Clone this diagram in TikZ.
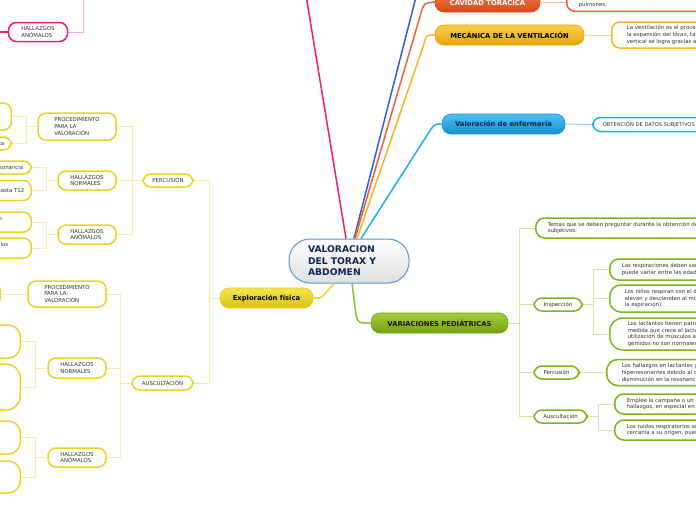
\documentclass[tikz,border=0pt]{standalone}
\usepackage{fontspec}
\setmainfont{DejaVu Sans}
\usetikzlibrary{calc}
\definecolor{cpink}{HTML}{EE1E78}
\definecolor{cpinkl}{HTML}{F7AACB}
\definecolor{cblue}{HTML}{2E62D4}
\definecolor{cred}{HTML}{F0603A}
\definecolor{credl}{HTML}{F8B4A0}
\definecolor{corange}{HTML}{F8B425}
\definecolor{corangel}{HTML}{FCDC98}
\definecolor{ccyan}{HTML}{22AEE8}
\definecolor{ccyanl}{HTML}{9ED8F4}
\definecolor{cgreen}{HTML}{8CC232}
\definecolor{cgreenk}{HTML}{7DB51A}
\definecolor{cgreenl}{HTML}{CFE6A4}
\definecolor{cyel}{HTML}{EFD124}
\definecolor{cyell}{HTML}{F8EDA8}
\definecolor{ctext}{HTML}{333333}
\definecolor{cnavy}{HTML}{12254F}
\tikzset{
  mainbox/.style={rounded corners=9pt, line width=0.6pt, minimum height=20pt, inner sep=0pt,
    font=\fontsize{6.8}{8}\selectfont\bfseries},
  kidbox/.style={rounded corners=8pt, line width=1.5pt, fill=white, inner sep=0pt, align=left,
    text=ctext, font=\fontsize{5.4}{6.7}\selectfont},
  ykid/.style={kidbox, draw=cyel},
  gkid/.style={kidbox, draw=cgreenk},
  pkid/.style={kidbox, draw=cpink},
  ylink/.style={cyell, line width=1pt},
  glink/.style={cgreenl, line width=1pt},
  plink/.style={cpinkl, line width=1pt},
  mline/.style={line width=1.5pt},
}
\begin{document}
\begin{tikzpicture}[x=1pt,y=-1pt]
\useasboundingbox (0,0) rectangle (696,520);
\clip (0,0) rectangle (696,520);
\fill[white] (0,0) rectangle (696,520);

% central node
\node[draw=cyan!60!blue!70, line width=1pt, rounded corners=21pt, minimum width=120pt, minimum height=44pt,
  top color=white, bottom color=gray!25, text=cnavy, align=left, text width=82pt, inner sep=0pt,
  font=\fontsize{9.2}{11.5}\selectfont\bfseries] (c) at (349,261) {VALORACION\\DEL TORAX Y\\ABDOMEN};

% main branch nodes
\node[mainbox, draw=red!60!orange, top color={rgb,255:red,242;green,122;blue,80}, bottom color={rgb,255:red,216;green,74;blue,24}, text=white, minimum width=105pt] (cav) at (487.5,2) {CAVIDAD TORÁCICA};
\node[mainbox, draw=orange!80!yellow, top color={rgb,255:red,250;green,208;blue,80}, bottom color={rgb,255:red,228;green,164;blue,12}, text=black, minimum width=149pt] (mec) at (509.5,35) {MECÁNICA DE LA VENTILACIÓN};
\node[mainbox, draw=ccyan!80!blue, top color={rgb,255:red,76;green,192;blue,240}, bottom color={rgb,255:red,21;green,144;blue,208}, text=cnavy, minimum width=123pt] (val) at (503.5,124) {Valoración de enfermería};
\node[mainbox, draw=green!40!olive, top color={rgb,255:red,166;green,204;blue,60}, bottom color={rgb,255:red,116;green,160;blue,16}, text=black!90, minimum width=137pt] (var) at (439.5,323) {VARIACIONES PEDIÁTRICAS};
\node[mainbox, draw=yellow!60!orange, top color={rgb,255:red,244;green,230;blue,80}, bottom color={rgb,255:red,216;green,194;blue,16}, text=black, minimum width=93pt] (exp) at (266.5,298) {Exploración física};

% main connectors
\coordinate (ptop) at (306.3,-3);
\coordinate (btop) at (416,-3);
\draw[mline, cpink] ([xshift=-3pt]c.north) -- (ptop);
\draw[mline, cblue] ([xshift=5pt]c.north) -- (btop);
\draw[mline, cred] ([xshift=6pt]c.north) -- (421,13) .. controls (424,3) .. (cav.west);
\draw[mline, corange] ([xshift=8pt]c.north) -- (424,44) .. controls (426,35) .. (mec.west);
\draw[mline, ccyan] ([xshift=12pt]c.north) -- (431,129) .. controls (435,124) .. (val.west);
\draw[mline, cgreen] ([xshift=3pt]c.south) -- (356,315) .. controls (358,323) .. (var.west);
\draw[mline, cyel] ([xshift=-15pt]c.south) -- (323,296) .. controls (320,298) .. (exp.east);

% cavidad child
\node[kidbox, draw=cred, anchor=south west, inner xsep=12pt, inner ysep=4pt] (cavk) at (566,12)
  {En la cavidad torácica se encuentran el corazón y los grandes vasos;\\la cavidad torácica se completa del músculo diafragma y los\\pulmones.};
\draw[credl, line width=1pt] (cav.east) -- (cav.east -| cavk.west);

% mecanica child
\node[kidbox, draw=corange, anchor=west, inner xsep=15pt, minimum height=26pt] (mk) at (611,35)
  {La ventilación es el proceso mecánico que depende de\\la expansión del tórax, tanto horizontal como\\vertical se logra gracias al diafragma.};
\draw[corangel, line width=1pt] (mec.east) -- (mk.west);

% valoracion child
\node[kidbox, draw=ccyan, anchor=west, inner xsep=10pt, minimum height=14pt, font=\fontsize{5.2}{6}\selectfont] (vk) at (592,124.5)
  {OBTENCIÓN DE DATOS SUBJETIVOS};
\draw[ccyanl, line width=1pt] (val.east) -- (vk.west);

% pink fragment
\coordinate (pkr) at (83,-3);
\coordinate (pkl) at (-3,32);
\node[pkid, minimum width=59pt, minimum height=19pt] (ph) at (38,32) {HALLAZGOS\\ANÓMALOS};
\draw[plink] (ph.east) -| (pkr);
\draw[cpink, line width=1.3pt] (ph.west) -- (pkl);

% ===== Exploracion fisica =====
\node[ykid, minimum width=50pt, minimum height=13pt] (perc) at (168,180.5) {PERCUSIÓN};
\node[ykid, minimum width=61pt, minimum height=14pt] (ausc) at (162.5,383) {AUSCULTACIÓN};
\draw[ylink] (exp.west) -- ++(-10,0) |- (perc.east);
\draw[ylink] (exp.west) -- ++(-10,0) |- (ausc.east);

\node[ykid, minimum width=78pt, minimum height=27pt] (pp) at (77,126.5) {PROCEDIMIENTO\\PARA LA\\VALORACIÓN};
\node[ykid, minimum width=58pt, minimum height=19pt] (pn) at (87,180.5) {HALLAZGOS\\NORMALES};
\node[ykid, minimum width=58pt, minimum height=19pt] (pa) at (87,234.5) {HALLAZGOS\\ANÓMALOS};
\draw[ylink] (perc.west) -- ++(-10,0) |- (pp.east);
\draw[ylink] (perc.west) -- ++(-10,0) |- (pn.east);
\draw[ylink] (perc.west) -- ++(-10,0) |- (pa.east);

\node[ykid, anchor=east, minimum width=60pt, minimum height=27pt] (a1) at (12,116.5) {};
\node[ykid, anchor=east, minimum height=13pt, inner xsep=7pt] (a2) at (12,143.5) {Percusión indirecta};
\draw[ylink] (pp.west) -- ++(-11,0) |- (a1.east);
\draw[ylink] (pp.west) -- ++(-11,0) |- (a2.east);

\node[ykid, anchor=east, minimum height=13pt, inner xsep=8pt] (b1) at (32,167.5) {Sonido de resonancia};
\node[ykid, anchor=east, minimum height=20pt, inner xsep=7pt] (b2) at (32,190.5) {Matidez de T10 hasta T12};
\draw[ylink] (pn.west) -- ++(-11,0) |- (b1.east);
\draw[ylink] (pn.west) -- ++(-11,0) |- (b2.east);

\node[ykid, anchor=east, minimum height=20pt, inner xsep=7pt, text width=105pt] (c1) at (32,222) {Hiperresonancia o timpanismo\\local};
\node[ykid, anchor=east, minimum height=20pt, inner xsep=7pt, text width=96pt] (c2) at (32,248) {Frémitos aumentados o nulos\\en pulmón};
\draw[ylink] (pa.west) -- ++(-11,0) |- (c1.east);
\draw[ylink] (pa.west) -- ++(-11,0) |- (c2.east);

\node[ykid, minimum width=78pt, minimum height=26pt] (ap) at (67,294) {PROCEDIMIENTO\\PARA LA\\VALORACIÓN};
\node[ykid, minimum width=58pt, minimum height=20pt] (an) at (77,368) {HALLAZGOS\\NORMALES};
\node[ykid, minimum width=58pt, minimum height=19pt] (aa) at (77,457.5) {HALLAZGOS\\ANÓMALOS};
\draw[ylink] (ausc.west) -- ++(-11,0) |- (ap.east);
\draw[ylink] (ausc.west) -- ++(-11,0) |- (an.east);
\draw[ylink] (ausc.west) -- ++(-11,0) |- (aa.east);

\node[ykid, anchor=east, minimum width=60pt, minimum height=22pt] (apk) at (1,294) {};
\draw[ylink] (ap.west) -- (apk.east);

\node[ykid, anchor=east, minimum width=60pt, minimum height=33pt, rounded corners=12pt] (d1) at (21,341.5) {};
\node[ykid, anchor=east, minimum width=60pt, minimum height=46pt, rounded corners=14pt] (d2) at (21,387) {};
\draw[ylink] (an.west) -- ++(-12,0) |- (d1.east);
\draw[ylink] (an.west) -- ++(-12,0) |- (d2.east);

\node[ykid, anchor=east, minimum width=60pt, minimum height=33pt, rounded corners=12pt] (e1) at (21,437.5) {};
\node[ykid, anchor=east, minimum width=60pt, minimum height=32pt, rounded corners=12pt] (e2) at (21,477) {};
\draw[ylink] (aa.west) -- ++(-12,0) |- (e1.east);
\draw[ylink] (aa.west) -- ++(-12,0) |- (e2.east);

% ===== Variaciones pediatricas =====
\node[gkid, anchor=west, minimum height=20pt, inner xsep=12pt, rounded corners=9pt] (tem) at (535,228)
  {Temas que se deben preguntar durante la obtención de datos\\subjetivos:};
\node[gkid, minimum width=48pt, minimum height=13pt] (insp) at (558,304.5) {Inspección};
\node[gkid, minimum width=45pt, minimum height=13pt] (pg) at (556.5,372.5) {Percusión};
\node[gkid, minimum width=53pt, minimum height=13pt] (ag) at (560.5,416.5) {Auscultación};
\draw[glink] (var.east) -- ++(11,0) |- (tem.west);
\draw[glink] (var.east) -- ++(11,0) |- (insp.west);
\draw[glink] (var.east) -- ++(11,0) |- (pg.west);
\draw[glink] (var.east) -- ++(11,0) |- (ag.west);

\node[gkid, anchor=west, minimum height=21pt, inner xsep=12pt, rounded corners=9pt] (f1) at (609,269.5)
  {Las respiraciones deben ser silenciosas y la frecuencia\\puede variar entre las edades.};
\node[gkid, anchor=west, minimum height=27pt, inner xsep=15pt, rounded corners=11pt] (f2) at (609,298.5)
  {Los niños respiran con el diafragma; el abdomen y el tórax se\\elevan y descienden al mismo tiempo (durante la inspiración y\\la espiración).};
\node[gkid, anchor=west, minimum height=32pt, inner xsep=18pt, rounded corners=13pt] (f3) at (609,334)
  {Los lactantes tienen patrones respiratorios irregulares; a\\medida que  crece el lactante se vuelven regulares. La\\utilización de músculos accesorios, aleteo nasal y\\gemidos no son normales.};
\draw[glink] (insp.east) -- ++(11,0) |- (f1.west);
\draw[glink] (insp.east) -- ++(11,0) |- (f2.west);
\draw[glink] (insp.east) -- ++(11,0) |- (f3.west);

\node[gkid, anchor=west, minimum height=26pt, inner xsep=15pt, rounded corners=11pt] (g1) at (606,372.5)
  {Los hallazgos en lactantes y niños pequeños son\\hiperresonantes debido al delgado tórax y a una\\disminución en la resonancia.};
\draw[glink] (pg.east) -- (g1.west);

\node[gkid, anchor=west, minimum height=20pt, inner xsep=12pt, rounded corners=9pt] (h1) at (614,404)
  {Emplee la campana o un diafragma pequeño para detectar\\hallazgos, en especial en lactantes.};
\node[gkid, anchor=west, minimum height=20pt, inner xsep=12pt, rounded corners=9pt] (h2) at (614,430)
  {Los ruidos respiratorios se oyen más intensos por la\\cercanía a su origen, pues el tórax es delgado.};
\draw[glink] (ag.east) -- ++(11,0) |- (h1.west);
\draw[glink] (ag.east) -- ++(11,0) |- (h2.west);
\end{tikzpicture}
\end{document}
